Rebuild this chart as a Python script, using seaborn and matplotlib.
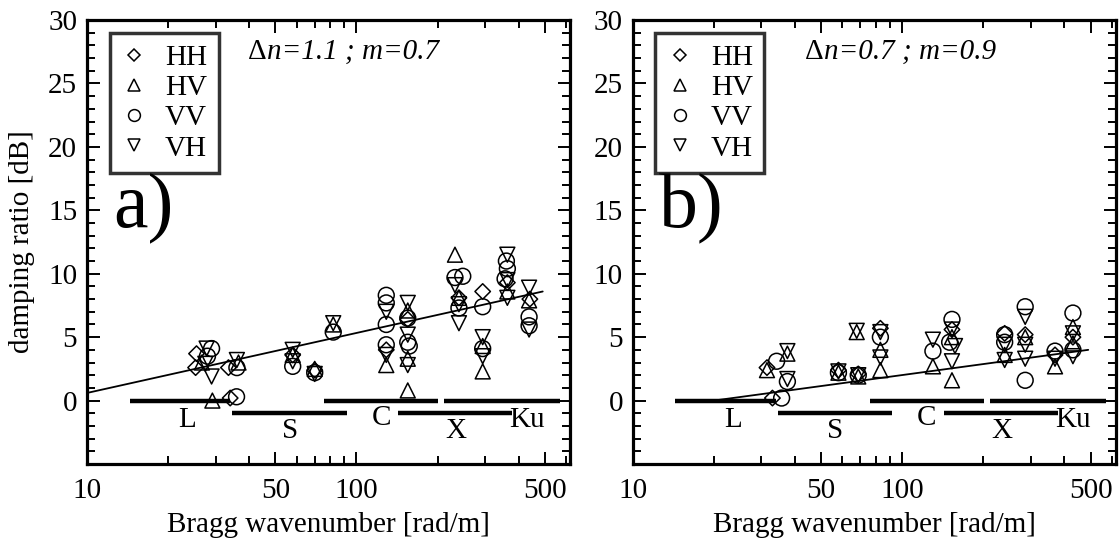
import matplotlib

matplotlib.use("Agg")
import matplotlib.pyplot as plt
import seaborn as sns
from matplotlib.lines import Line2D
from matplotlib.ticker import FixedLocator, MultipleLocator, NullFormatter

# axis ranges and ticks
X_LIM = (10, 620)
Y_LIM = (-5, 30)
X_TICKS = [10, 50, 100, 500]
X_MINOR = [20, 30, 40, 60, 70, 80, 90, 200, 300, 400, 600]

# radar band bars under the data
BANDS = ["L", "S", "C", "X", "Ku"]
BAND_START = [14.4, 34.6, 75.9, 143, 212]
BAND_END = [34.0, 91.9, 201, 378, 568]
BAND_LEVEL = [0, -1, 0, -1, 0]
BAND_LABEL_X = [23.5, 56.5, 123.6, 234, 430]
BAND_LABEL_Y = [-1.5, -2.4, -1.4, -2.4, -1.5]

# panel a) dn=1.1, m=0.7
A_HH_X = [25.5, 25.3, 33.5, 34, 58, 70, 129, 155, 240, 294, 363, 440]
A_HH_Y = [3.7, 2.6, 2.6, 0.2, 3.6, 2.4, 4.0, 6.4, 8.1, 8.6, 9.3, 8.0]
A_HV_X = [26.7, 29.2, 36.5, 58, 70, 82, 129, 155, 155, 155, 232, 240, 294, 294, 363, 437]
A_HV_Y = [3.0, 0.0, 3.0, 3.6, 2.5, 6.0, 2.8, 7.1, 3.3, 0.8, 11.5, 8.1, 4.3, 2.3, 8.6, 7.9]
A_VV_X = [29, 28, 36, 35.9, 58, 70, 82, 129, 129, 129, 129, 155, 155, 157,
          232, 248, 240, 294, 294, 363, 360, 356, 437, 437]
A_VV_Y = [4.1, 3.5, 2.6, 0.3, 2.7, 2.2, 5.4, 8.3, 7.7, 6.0, 4.4, 6.5, 4.6, 4.3,
          9.7, 9.8, 7.3, 7.4, 4.1, 10.4, 11.0, 9.6, 6.6, 5.9]
A_VH_X = [27.8, 29, 27.5, 36, 58, 58, 70, 82, 129, 129, 155, 155, 155,
          232, 240, 240, 294, 294, 363, 363, 363, 437, 437]
A_VH_Y = [4.1, 1.9, 2.9, 3.2, 4.0, 3.1, 2.1, 6.1, 7.0, 3.6, 7.7, 5.2, 2.8,
          9.1, 6.1, 7.6, 5.0, 3.5, 11.5, 9.5, 8.1, 8.9, 5.6]
A_FIT_X = [10, 491]
A_FIT_Y = [0.6, 8.6]

# panel b) dn=0.7, m=0.9
B_HH_X = [31.5, 33, 58, 68.7, 83, 153, 240, 286, 369, 430]
B_HH_Y = [2.6, 0.2, 2.4, 2.1, 5.7, 5.6, 5.3, 5.2, 3.6, 5.0]
B_HV_X = [37.5, 31.5, 58, 68.7, 67.8, 83, 83, 130, 153, 153, 240, 286, 369, 430, 430]
B_HV_Y = [3.7, 2.4, 2.2, 1.9, 5.4, 4.0, 2.4, 2.7, 5.0, 1.6, 3.6, 5.0, 2.7, 5.8, 4.5]
B_VV_X = [34.2, 35.7, 37.5, 58, 68.7, 83, 130, 153, 150, 240, 240, 286, 286, 369, 430, 430]
B_VV_Y = [3.1, 0.2, 1.5, 2.2, 2.0, 5.0, 3.9, 6.4, 4.6, 5.2, 4.6, 7.4, 1.6, 3.9, 6.9, 4.0]
B_VH_X = [37.5, 37.5, 58, 68.7, 67.8, 83, 83, 130, 153, 157, 153,
          240, 240, 286, 286, 286, 369, 430, 430]
B_VH_Y = [3.9, 1.7, 2.3, 2.0, 5.5, 5.4, 3.4, 4.8, 5.6, 4.3, 3.1,
          4.4, 3.2, 6.6, 4.4, 3.3, 3.3, 5.3, 3.5]
B_FIT_X = [20, 490]
B_FIT_Y = [0.0, 4.0]

POLS = ["HH", "HV", "VV", "VH"]
MARKERS = {"HH": "D", "HV": "^", "VV": "o", "VH": "v"}
SIZES = {"HH": 62, "HV": 115, "VV": 130, "VH": 115}

PANELS = [
    {
        "tag": "a)",
        "note": "n=1.1 ; m=0.7",
        "series": {"HH": (A_HH_X, A_HH_Y), "HV": (A_HV_X, A_HV_Y),
                   "VV": (A_VV_X, A_VV_Y), "VH": (A_VH_X, A_VH_Y)},
        "fit": (A_FIT_X, A_FIT_Y),
        "note_x": 0.333,
    },
    {
        "tag": "b)",
        "note": "n=0.7 ; m=0.9",
        "series": {"HH": (B_HH_X, B_HH_Y), "HV": (B_HV_X, B_HV_Y),
                   "VV": (B_VV_X, B_VV_Y), "VH": (B_VH_X, B_VH_Y)},
        "fit": (B_FIT_X, B_FIT_Y),
        "note_x": 0.357,
    },
]

FS = 21


def setup_style() -> None:
    sns.set_theme(style="ticks")
    plt.rcParams["font.family"] = ["Liberation Serif", "DejaVu Serif"]
    plt.rcParams["axes.linewidth"] = 2.3
    plt.rcParams["axes.edgecolor"] = "black"
    plt.rcParams["text.color"] = "black"
    plt.rcParams["axes.labelcolor"] = "black"
    plt.rcParams["xtick.color"] = "black"
    plt.rcParams["ytick.color"] = "black"


def draw_panel(ax, panel) -> None:
    ax.hlines(BAND_LEVEL, BAND_START, BAND_END, colors="black", linewidth=3.2, zorder=2)
    for name, bx, by in zip(BANDS, BAND_LABEL_X, BAND_LABEL_Y):
        ax.text(bx, by, name, ha="center", va="center", fontsize=FS)

    fit_x, fit_y = panel["fit"]
    sns.lineplot(x=fit_x, y=fit_y, color="black", linewidth=1.3, ax=ax, zorder=3)

    for pol in POLS:
        xs, ys = panel["series"][pol]
        sns.scatterplot(
            x=xs, y=ys, marker=MARKERS[pol], s=SIZES[pol],
            facecolor="none", edgecolor="black", linewidth=1.1, ax=ax, zorder=4,
        )

    ax.set_xscale("log")
    ax.set_xlim(*X_LIM)
    ax.set_ylim(*Y_LIM)
    ax.xaxis.set_major_locator(FixedLocator(X_TICKS))
    ax.xaxis.set_minor_locator(FixedLocator(X_MINOR))
    ax.set_xticklabels([str(t) for t in X_TICKS])
    ax.xaxis.set_minor_formatter(NullFormatter())
    ax.yaxis.set_major_locator(FixedLocator([0, 5, 10, 15, 20, 25, 30]))
    ax.yaxis.set_minor_locator(MultipleLocator(1))
    ax.tick_params(which="both", direction="in", top=True, right=True, width=1.4,
                   labelsize=FS)
    ax.tick_params(axis="x", which="both", pad=10)
    ax.tick_params(axis="y", which="both", pad=7)
    ax.tick_params(which="major", length=9)
    ax.tick_params(which="minor", length=5.5)
    ax.set_xlabel("Bragg wavenumber [rad/m]", fontsize=FS, labelpad=6)

    handles = [
        Line2D([], [], linestyle="none", marker=MARKERS[p],
               markersize=8.5 if p != "HH" else 6.3,
               markerfacecolor="none", markeredgecolor="black", markeredgewidth=1.1)
        for p in POLS
    ]
    leg = ax.legend(handles, POLS, loc="upper left", bbox_to_anchor=(0.047, 0.971),
                    borderaxespad=0, fontsize=FS, frameon=True, fancybox=False,
                    edgecolor="black", handlelength=0.9, handletextpad=0.6,
                    labelspacing=0.13, borderpad=0.4)
    leg.get_frame().set_linewidth(2.5)
    leg.set_zorder(6)

    # upright delta, the rest in italics
    ax.text(panel["note_x"], 0.928, "Δ", transform=ax.transAxes,
            ha="left", va="center", fontsize=FS)
    ax.annotate(panel["note"], xy=(panel["note_x"], 0.928), xycoords="axes fraction",
                xytext=(13.5, 0), textcoords="offset points",
                ha="left", va="center", fontsize=FS, style="italic")
    ax.text(0.055, 0.575, panel["tag"], transform=ax.transAxes,
            ha="left", va="center", fontsize=56)


def main() -> None:
    setup_style()
    fig = plt.figure(figsize=(11.19, 5.41), dpi=100)
    ax_a = fig.add_axes([0.0777, 0.1423, 0.4317, 0.8207])
    ax_b = fig.add_axes([0.5654, 0.1423, 0.4317, 0.8207])

    draw_panel(ax_a, PANELS[0])
    draw_panel(ax_b, PANELS[1])
    ax_a.set_ylabel("damping ratio [dB]", fontsize=FS, labelpad=9)

    fig.savefig("out.png", dpi=100, facecolor="white")
    plt.close(fig)


if __name__ == "__main__":
    main()
